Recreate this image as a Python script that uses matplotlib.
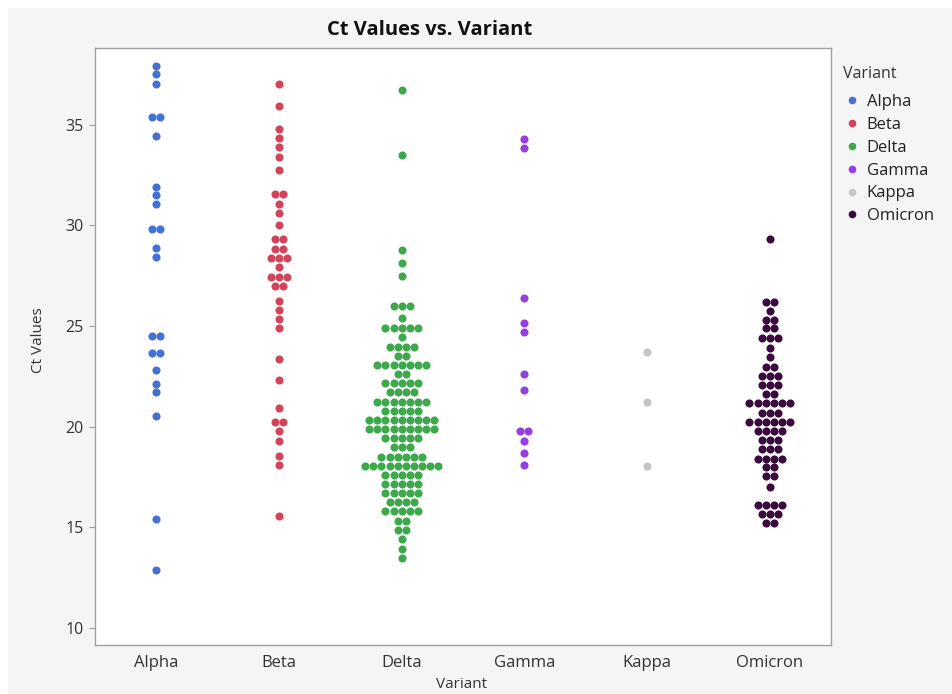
import numpy as np
import matplotlib.pyplot as plt
from matplotlib.patches import Rectangle
from matplotlib.lines import Line2D

# Categories and colours
variants = ["Alpha", "Beta", "Delta", "Gamma", "Kappa", "Omicron"]
colors = ["#4372d6", "#d1455c", "#3caa4b", "#9a3de0", "#c6c6c6", "#3a0a3e"]

# Ct values per variant: distinct levels and how many samples share each level
alpha_levels = [37.92, 37.5, 37.02, 35.35, 34.42, 31.92, 31.5, 31.05, 29.8, 28.85,
                28.4, 24.5, 23.67, 22.82, 22.12, 21.7, 20.52, 15.41, 12.88]
alpha_counts = [1, 1, 1, 2, 1, 1, 1, 1, 2, 1, 1, 2, 2, 1, 1, 1, 1, 1, 1]

beta_levels = [37.0, 35.93, 34.78, 34.33, 33.87, 33.41, 32.75, 31.53, 31.07, 30.61,
               30.03, 29.29, 28.83, 28.35, 27.9, 27.44, 26.98, 26.24, 25.8, 25.33,
               24.87, 23.35, 22.3, 20.93, 20.22, 19.78, 19.28, 18.54, 18.08, 15.58]
beta_counts = [1, 1, 1, 1, 1, 1, 1, 2, 1, 1, 1, 2, 2, 3, 1, 3, 2, 1, 1, 1,
               1, 1, 1, 1, 2, 1, 1, 1, 1, 1]

delta_levels = [36.7, 33.47, 28.79, 28.11, 27.46, 26.01, 25.38, 24.91, 24.43, 23.97,
                23.52, 23.06, 22.61, 22.16, 21.7, 21.23, 20.78, 20.34, 19.87, 19.41,
                18.96, 18.5, 18.05, 17.6, 17.17, 16.72, 16.26, 15.79, 15.31, 14.86,
                14.4, 13.94, 13.49]
delta_counts = [1, 1, 1, 1, 1, 3, 1, 5, 1, 4,
                2, 7, 2, 5, 4, 7, 5, 9, 9, 5,
                3, 6, 10, 5, 5, 5, 4, 5, 2, 2,
                1, 1, 1]

gamma_levels = [34.3, 33.84, 26.36, 25.15, 24.69, 22.59, 21.81, 19.76, 19.3, 18.69, 18.08]
gamma_counts = [1, 1, 1, 1, 1, 1, 1, 2, 1, 1, 1]

kappa_levels = [23.69, 21.21, 18.04]
kappa_counts = [1, 1, 1]

omicron_levels = [29.3, 26.19, 25.75, 25.29, 24.87, 24.38, 23.91, 23.47, 22.97, 22.53,
                  22.06, 21.6, 21.16, 20.69, 20.23, 19.78, 19.34, 18.88, 18.41, 17.97,
                  17.52, 16.98, 16.12, 15.67, 15.21]
omicron_counts = [1, 2, 1, 2, 2, 3, 1, 1, 2, 3,
                  3, 2, 6, 3, 6, 4, 3, 3, 4, 2,
                  2, 1, 4, 3, 2]

y_ticks = [10, 15, 20, 25, 30, 35]

groups = [
    (alpha_levels, alpha_counts),
    (beta_levels, beta_counts),
    (delta_levels, delta_counts),
    (gamma_levels, gamma_counts),
    (kappa_levels, kappa_counts),
    (omicron_levels, omicron_counts),
]

plt.rcParams['font.family'] = ['Open Sans', 'DejaVu Sans']

W, H = 952, 694
fig = plt.figure(figsize=(W / 100, H / 100), dpi=100)
fig.patch.set_facecolor("white")
fig.patches.append(Rectangle((8 / W, 0), 1, 1 - 8 / H, transform=fig.transFigure,
                             facecolor="#f5f5f5", edgecolor="none", zorder=-10))

left, right, top, bottom = 95, 831, 48, 645
ax = fig.add_axes([left / W, 1 - bottom / H, (right - left) / W, (bottom - top) / H])
ax.set_facecolor("white")

# Packed dot layout: samples sharing a level sit side by side, centred on the category
dx = 0.066
for i, ((levels, counts), col) in enumerate(zip(groups, colors)):
    xs, ys = [], []
    for lvl, n in zip(levels, counts):
        offs = (np.arange(n) - (n - 1) / 2) * dx
        xs.extend(i + offs)
        ys.extend([lvl] * n)
    ax.scatter(xs, ys, s=34, color=col, linewidths=0, zorder=3)

ax.set_xlim(-0.5, len(variants) - 0.5)
ax.set_ylim(9.15, 38.8)
ax.set_xticks(range(len(variants)))
ax.set_xticklabels(variants)
ax.set_yticks(y_ticks)

for sp in ax.spines.values():
    sp.set_color("#a0a0a0")
    sp.set_linewidth(1)
ax.tick_params(axis="y", length=4, color="#a0a0a0", labelsize=11.5, labelcolor="#333333", pad=4)
ax.tick_params(axis="x", length=0, labelsize=12, labelcolor="#333333", pad=7)

fig.text(430 / W, 1 - 30 / H, "Ct Values vs. Variant", ha="center", va="center",
         fontsize=14.5, fontweight="bold", color="#111111")
fig.text(38 / W, 1 - 340 / H, "Ct Values", rotation=90, ha="center", va="center",
         fontsize=11, color="#333333")
fig.text(462 / W, 1 - 685 / H, "Variant", ha="center", va="center",
         fontsize=11, color="#333333")

handles = [Line2D([], [], marker="o", linestyle="", color=c, markersize=4.5) for c in colors]
leg = ax.legend(handles, variants, title="Variant", loc="upper left",
                bbox_to_anchor=(831 / W, 1 - 54 / H), bbox_transform=fig.transFigure,
                frameon=False, fontsize=12, title_fontsize=11.5, handletextpad=0.35,
                labelspacing=0.41, handlelength=1.1, borderpad=0.2)
leg._legend_box.align = "left"
leg._legend_box.sep = 0.41 * 12 + 4.0
for t in leg.get_texts():
    t.set_color("#222222")
leg.get_title().set_color("#333333")

fig.savefig("out.png", dpi=100)
